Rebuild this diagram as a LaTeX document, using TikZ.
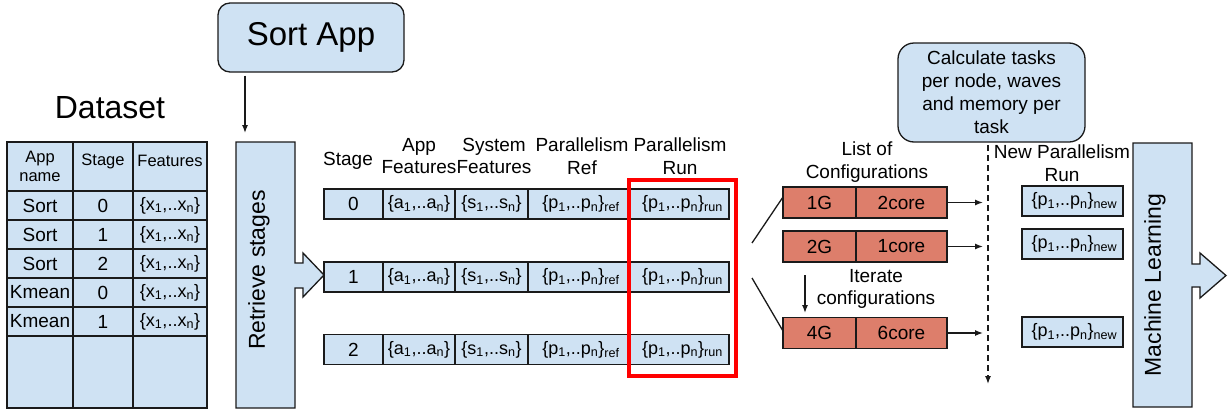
\documentclass[tikz,border=0pt]{standalone}
\usepackage{fontspec}
\setmainfont{Liberation Sans}
\usetikzlibrary{arrows.meta}
\definecolor{boxblue}{HTML}{CFE2F3}
\definecolor{cfgred}{HTML}{DD7E6B}
\definecolor{edge}{HTML}{1A1A1A}
\definecolor{hilite}{HTML}{FF0000}
\newcommand\sub[1]{\textsubscript{#1}}
\begin{document}
\begin{tikzpicture}[x=1pt,y=-1pt,
  line width=1.3pt,
  txt/.style={inner sep=0pt, align=center, text=black},
  f16/.style={font=\fontsize{16.5}{19}\selectfont},
  f18/.style={font=\fontsize{18}{22}\selectfont},
  f19/.style={font=\fontsize{19}{22.5}\selectfont},
  f23/.style={font=\fontsize{23}{26}\selectfont},
  bluebox/.style={draw=edge, fill=boxblue, inner sep=0pt, minimum height=30pt},
  redbox/.style={draw=edge, fill=cfgred, inner sep=0pt, minimum height=31pt, f19},
  roundbox/.style={draw=edge, fill=boxblue, rounded corners=12pt, inner sep=0pt, align=center},
  arr/.style={draw=edge, -{Latex[length=8pt,width=6pt]}},
  plain/.style={draw=edge}
]
\useasboundingbox (0,0) rectangle (1229,410);

% ---------- Dataset table ----------
\node[txt, font=\fontsize{32}{36}\selectfont] (dstitle) at (110,108) {Dataset};
\fill[boxblue] (7,142) rectangle (207,408);
\draw[edge] (7,142) rectangle (207,408);
\foreach \x in {73,133} \draw[edge] (\x,142) -- (\x,408);
\foreach \y in {191,220,249,278,307,336} \draw[edge] (7,\y) -- (207,\y);
\node[txt, f16, font=\fontsize{16.5}{19}\selectfont] (hApp) at (40,166.5) {App\\name};
\node[txt, f16] (hStage) at (103,161) {Stage};
\node[txt, f16] (hFeat) at (170,161) {Features};
\foreach \app/\st [count=\i] in {Sort/0,Sort/1,Sort/2,Kmean/0,Kmean/1} {
  \pgfmathsetmacro\yc{191+29*\i-14.5}
  \node[txt, f19] (app\i) at (40,\yc) {\app};
  \node[txt, f19] (stg\i) at (103,\yc) {\st};
  \node[txt, f18] (fx\i) at (170,\yc) {\{x\sub{1},..x\sub{n}\}};
}

% ---------- Sort App and stage retrieval ----------
\node[roundbox, minimum width=186pt, minimum height=69pt,
      font=\fontsize{33}{36}\selectfont] (sortapp) at (311,37.5) {Sort App};
\coordinate (retin) at (245,133);
\draw[arr, shorten <=3pt] (sortapp.south -| retin) -- (retin);

\filldraw[draw=edge, fill=boxblue]
  (236,142) -- (295,142) -- (295,263) -- (303,263) -- (303,253) -- (324,275)
  -- (303,297) -- (303,288) -- (295,288) -- (295,408) -- (236,408) -- cycle;
\node[txt, f23, rotate=90] (retlbl) at (259,270) {Retrieve stages};

% ---------- Per-stage feature rows ----------
\node[txt, f19] (colStage) at (348,161) {Stage};
\node[txt, f19] (colApp) at (419,156) {App\\Features};
\node[txt, f19] (colSys) at (494,156) {System\\Features};
\node[txt, f19] (colRef) at (582,156) {Parallelism\\Ref};
\node[txt, f19] (colRun) at (680,156) {Parallelism\\Run};

\foreach \s/\y in {0/204,1/277,2/349.5} {
  \node[bluebox, minimum width=59pt, f19] (st\s) at (353.5,\y) {\s};
  \node[bluebox, minimum width=72pt, f18] (af\s) at (419,\y) {\{a\sub{1},..a\sub{n}\}};
  \node[bluebox, minimum width=73pt, f18] (sf\s) at (491.5,\y) {\{s\sub{1},..s\sub{n}\}};
  \node[bluebox, minimum width=100pt, f18] (pr\s) at (578,\y) {\hspace{6pt}\{p\sub{1},..p\sub{n}\}\sub{ref}};
  \node[bluebox, minimum width=101pt, f18] (pu\s) at (678.5,\y) {\hspace{8pt}\{p\sub{1},..p\sub{n}\}\sub{run}};
}
\draw[hilite, line width=4.5pt] (629,180) rectangle (736,376);

% ---------- Configurations ----------
\node[txt, f19] (cfglbl) at (867,162) {List of\\Configurations};
\foreach \k/\m/\c/\y in {1/1G/2core/202.5, 2/2G/1core/246.5, 3/4G/6core/333} {
  \node[redbox, minimum width=73pt] (mem\k) at (819.5,\y) {\m};
  \node[redbox, minimum width=91pt] (core\k) at (901.5,\y) {\c};
}
\coordinate (fanA) at (752,243);
\coordinate (fanB) at (752,278);
\coordinate (fanA2) at (783,197);
\coordinate (fanB2) at (783,331);
\draw[plain] (fanA) -- (fanA2);
\draw[plain] (fanB) -- (fanB2);

\node[txt, f19] (iterlbl) at (876,289) {Iterate\hspace{22pt}\\configurations};
\coordinate (itTop) at (805,275);
\coordinate (itBot) at (805,313);
\draw[arr] (itTop) -- (itBot);

% ---------- Task calculation ----------
\node[roundbox, minimum width=187pt, minimum height=99pt, rounded corners=16pt,
      font=\fontsize{19}{23}\selectfont] (calc) at (991.5,92.5)
      {Calculate tasks\\per node, waves\\and memory per\\task};
\coordinate (dtop) at (988,145);
\coordinate (dbot) at (988,384);
\draw[arr, dash pattern=on 6pt off 4pt] (dtop) -- (dbot);
\foreach \k in {1,2,3}
  \draw[arr, shorten >=5pt] (core\k.east) -- (core\k.east -| dtop);

% ---------- New parallelism ----------
\node[txt, f19] (newlbl) at (1062,163) {New Parallelism\\Run};
\foreach \k/\y in {1/201, 2/244, 3/332} {
  \node[bluebox, minimum width=101pt, f18] (pn\k) at (1072.5,\y)
    {\hspace{4pt}\{p\sub{1},..p\sub{n}\}\sub{new}};
}

% ---------- Machine learning ----------
\filldraw[draw=edge, fill=boxblue]
  (1133,143) -- (1192,143) -- (1192,264) -- (1200,264) -- (1200,253) -- (1226,275.5)
  -- (1200,298) -- (1200,287) -- (1192,287) -- (1192,407) -- (1133,407) -- cycle;
\node[txt, f23, rotate=90] (mllbl) at (1155,285) {Machine Learning};
\end{tikzpicture}
\end{document}
